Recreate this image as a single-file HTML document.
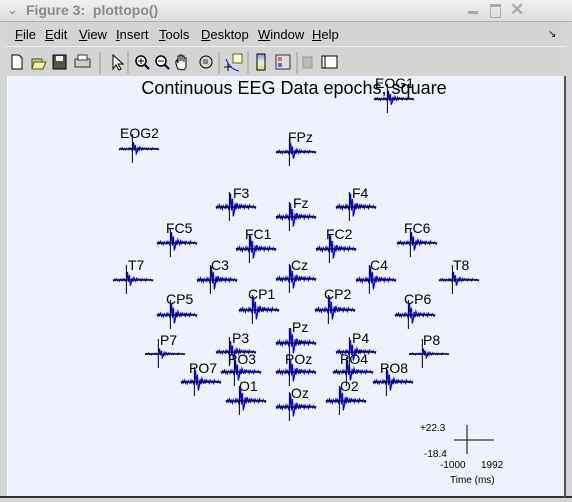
<!DOCTYPE html>
<html><head><meta charset="utf-8"><style>
body{margin:0;width:572px;height:502px;overflow:hidden;background:#d6d6d6;font-family:"Liberation Sans",sans-serif;position:relative}
.abs{position:absolute}
#titlebar{left:0;top:0;width:572px;height:21px;background:linear-gradient(#f0f0f0,#dcdcdc);border-bottom:1px solid #b0b0b0}
#menubar{left:6px;top:22px;width:560px;height:24px;background:#d4d4d4;font-size:13px}
#menubar span{position:absolute;top:5px;color:#000}
#toolbar{left:6px;top:46px;width:560px;height:30px;background:#d4d4d4;border-top:1px solid #eee}
#plot{left:7px;top:76px;width:557px;height:420px;background:#edf2fe;border-left:1px solid #fff}
</style></head><body>
<div class="abs" id="titlebar">
 <span class="abs" style="left:7px;top:2px;color:#888;font-size:13px">&#8964;</span>
 <span class="abs" style="left:26px;top:2px;color:#8a8a8a;font-weight:bold;font-size:14px">Figure 3:&nbsp; plottopo()</span>
 <span class="abs" style="left:468px;top:11px;width:10px;height:3px;background:#aaa"></span>
 <span class="abs" style="left:490px;top:4px;width:9px;height:10px;border:1px solid #aaa;border-top-width:3px"></span>
 <span class="abs" style="left:510px;top:0px;color:#aaa;font-size:17px;font-weight:bold">✕</span>
</div>
<div class="abs" id="menubar">
 <span style="left:9px"><u>F</u>ile</span>
 <span style="left:39px"><u>E</u>dit</span>
 <span style="left:73px"><u>V</u>iew</span>
 <span style="left:110px"><u>I</u>nsert</span>
 <span style="left:153px"><u>T</u>ools</span>
 <span style="left:195px"><u>D</u>esktop</span>
 <span style="left:252px"><u>W</u>indow</span>
 <span style="left:306px"><u>H</u>elp</span>
 <span style="left:542px;font-size:10px;top:7px">&#8600;</span>
</div>
<div class="abs" id="toolbar">
<svg width="560" height="30" style="position:absolute;left:0;top:0">
 <g><path d="M6 8h7l3 3v11H6z" fill="#fff" stroke="#000"/></g>
 <g><path d="M26 12h10v10H26z" fill="#cc9" stroke="#550"/><path d="M28 15h12l-3 7H26z" fill="#eea" stroke="#550"/></g>
 <g><rect x="47" y="8" width="13" height="14" fill="#554" stroke="#000"/><rect x="50" y="9" width="7" height="5" fill="#eee"/></g>
 <g><rect x="69" y="12" width="15" height="8" fill="#ccc" stroke="#333"/><rect x="72" y="8" width="9" height="5" fill="#fff" stroke="#333"/></g>
 <line x1="94" y1="5" x2="94" y2="27" stroke="#999"/>
 <g><path d="M107 8l0 14 3-4 3 5 2-1-3-5 5 0z" fill="#fff" stroke="#000"/></g>
 <line x1="122" y1="5" x2="122" y2="27" stroke="#999"/>
 <g><circle cx="135" cy="14" r="5" fill="#fff" stroke="#000" stroke-width="1.5"/><path d="M132 14h6M135 11v6" stroke="#000"/><line x1="139" y1="18" x2="143" y2="22" stroke="#003" stroke-width="2"/></g>
 <g><circle cx="155" cy="14" r="5" fill="#fff" stroke="#000" stroke-width="1.5"/><path d="M152 14h6" stroke="#000"/><line x1="159" y1="18" x2="163" y2="22" stroke="#003" stroke-width="2"/></g>
 <g><path d="M172 22c-2-4-3-8-1-9l1 3v-7h2v5v-6h2v6v-5h2v6v-4h2v9l-2 3z" fill="#fff" stroke="#000"/></g>
 <g><circle cx="200" cy="15" r="6" fill="none" stroke="#000"/><rect x="197" y="12" width="5" height="5" fill="#888"/></g>
 <line x1="213" y1="5" x2="213" y2="27" stroke="#999"/>
 <g><rect x="227" y="7" width="9" height="9" fill="#ffd" stroke="#660"/><path d="M222 16v8M218 20h8" stroke="#000"/><path d="M220 12c3 8 8 11 13 12" stroke="#00f" fill="none"/></g>
 <line x1="242" y1="5" x2="242" y2="27" stroke="#999"/>
 <g><defs><linearGradient id="cb" x1="0" y1="0" x2="0" y2="1"><stop offset="0" stop-color="#88f"/><stop offset=".5" stop-color="#cfc"/><stop offset="1" stop-color="#fc8"/></linearGradient></defs><rect x="251" y="7" width="8" height="16" fill="url(#cb)" stroke="#000"/></g>
 <g><rect x="270" y="8" width="14" height="14" fill="#ddd" stroke="#333"/><rect x="272" y="10" width="4" height="4" fill="#e66"/><rect x="272" y="16" width="4" height="4" fill="#66e"/></g>
 <line x1="291" y1="5" x2="291" y2="27" stroke="#999"/>
 <g><rect x="297" y="10" width="9" height="11" fill="#bbb" stroke="#999"/></g>
 <g><rect x="316" y="9" width="15" height="12" fill="#fff" stroke="#000"/><line x1="319" y1="9" x2="319" y2="21" stroke="#000"/></g>
</svg>
</div>
<div class="abs" id="plot"></div>
<svg id="chart" class="abs" style="left:0;top:0" width="572" height="502">
 <text x="294" y="94" text-anchor="middle" font-size="18" font-family="Liberation Sans, sans-serif">Continuous EEG Data epochs, square</text>
 <g id="chans"></g>
 <g font-size="10" font-family="Liberation Sans, sans-serif">
  <line x1="454" y1="440" x2="494" y2="440" stroke="#000"/>
  <line x1="467" y1="425" x2="467" y2="454" stroke="#000"/>
  <text x="420" y="431">+22.3</text>
  <text x="424" y="457">-18.4</text>
  <text x="440" y="468">-1000</text>
  <text x="481" y="468">1992</text>
  <text x="450" y="483">Time (ms)</text>
 </g>
</svg>
<div class="abs" style="left:0;top:496px;width:572px;height:2px;background:#333"></div>
<div class="abs" style="left:564px;top:76px;width:2px;height:421px;background:#555"></div>
<script>
// channel data
const channels=["EOG1","EOG2","FPz","F3","Fz","F4","FC5","FC1","FC2","FC6","T7","C3","Cz","C4","T8","CP5","CP1","CP2","CP6","P7","P3","Pz","P4","P8","PO7","PO3","POz","PO4","PO8","O1","Oz","O2"];
const gains=[0.6,0.5,0.7,1.0,1.0,1.0,0.8,1.0,1.0,0.8,0.6,1.0,1.0,1.0,0.6,0.9,1.0,1.0,0.9,0.4,0.8,1.1,0.9,0.4,0.9,0.9,1.0,0.9,0.9,1.0,1.0,1.0];
// shared waveform (µV), -1000..1992 ms
const wave=[1,-2,2,-1,3,-2,1,-3,2,0,-2,3,-1,2,-3,1,20,-5,12,-14,-8,5,-4,6,2,-3,4,-1,3,0,2,-2,3,1,-1,2,-2,3,0,1,-1,2,0,-2,1];
const tMin=-1000,tMax=1992,vMax=22.3,vMin=-18.4;
// layout (topographic positions in px)
const layoutX=[387,132,289,229,289,349,170,249,329,410,126,210,289,369,452,170,252,328,408,158,229,289,349,422,194,234,289,346,386,239,289,339];
const layoutY=[99,149,152,207,217,207,243,249,249,243,280,280,279,280,280,315,310,310,315,354,352,343,352,354,382,372,372,372,382,401,407,401];
const labelLeft=[375,120,288,233,293,352,166,245,326,404,128,211,291,370,453,166,248,324,404,160,232,292,352,423,189,228,285,340,380,239,291,340];
const labelTop=[77,127,131,187,197,187,222,228,228,222,259,259,259,259,259,293,288,288,293,334,332,321,332,334,362,353,353,353,362,380,387,380];
const NS="http://www.w3.org/2000/svg";
const g=document.getElementById('chans');
channels.forEach((name,i)=>{
  const vx=layoutX[i],ay=layoutY[i];
  const x0=vx-13,w=40;
  const xs=t=>x0+(t-tMin)/(tMax-tMin)*w;
  const ys=v=>ay-v/vMax*15;
  const grp=document.createElementNS(NS,'g');
  
  
  const lab=document.createElementNS(NS,'text');
  
  
  lab.setAttribute('x',labelLeft[i]);lab.setAttribute('y',labelTop[i]+11);
  lab.setAttribute('font-size','14');lab.setAttribute('font-family','Liberation Sans, sans-serif');
  lab.textContent=name;grp.appendChild(lab);
  const pts=wave.map((v,k)=>{const t=tMin+k*(tMax-tMin)/(wave.length-1);return xs(t).toFixed(1)+','+ys(v*gains[i]).toFixed(1);}).join(' ');
  const pl=document.createElementNS(NS,'polyline');
  
  
  pl.setAttribute('points',pts);pl.setAttribute('fill','none');pl.setAttribute('stroke','#0000ff');pl.setAttribute('stroke-width','1.2');
  grp.appendChild(pl);
  const hx=document.createElementNS(NS,'line');
  
  
  hx.setAttribute('x1',x0);hx.setAttribute('x2',x0+w);hx.setAttribute('y1',ay);hx.setAttribute('y2',ay);hx.setAttribute('stroke','#000');hx.setAttribute('stroke-width','1.2');
  grp.appendChild(hx);
  const vl=document.createElementNS(NS,'line');
  
  
  vl.setAttribute('x1',xs(0));vl.setAttribute('x2',xs(0));vl.setAttribute('y1',ay-15);vl.setAttribute('y2',ay+14);vl.setAttribute('stroke','#000');
  grp.appendChild(vl);
  g.appendChild(grp);
});
</script>
</body></html>
